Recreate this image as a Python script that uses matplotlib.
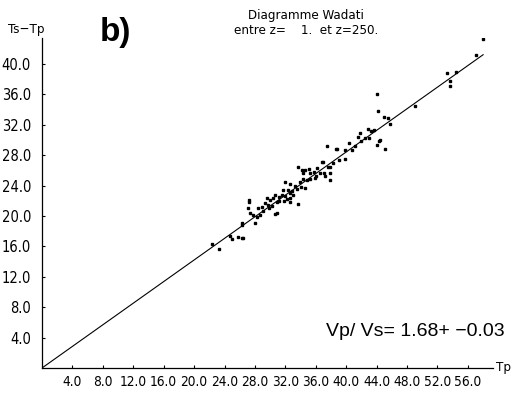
import matplotlib
matplotlib.use('Agg')
import matplotlib.pyplot as plt
from matplotlib import font_manager

# Wadati diagram: S-P time vs P arrival time
tp = [58.0, 57.1, 53.3, 54.5, 53.7, 53.6, 49.1, 44.1, 44.2, 45.0, 45.5, 45.1,
      44.5, 45.8, 42.9, 43.2, 43.7, 41.8, 41.6, 42.5, 44.1, 44.3, 40.4, 39.9,
      38.8, 38.6, 37.5, 39.9, 37.6, 37.9, 37.9, 37.2, 37.9, 36.8, 36.2, 35.7,
      35.1, 35.3, 34.6, 34.3, 33.6, 34.3, 34.9, 35.9, 34.1, 34.6, 33.3, 32.6,
      32.0, 31.7, 32.4, 32.6, 33.0, 32.6, 32.2, 32.6, 33.7, 31.6, 31.1, 30.7,
      30.4, 30.9, 30.0, 29.6, 29.3, 29.7, 28.9, 28.4, 27.2, 27.1, 27.4, 27.8,
      28.3, 28.7, 28.0, 30.7, 30.9, 26.3, 26.4, 27.2, 26.3, 24.7, 25.0, 25.8,
      26.3, 22.4, 23.3, 37.0, 37.1, 34.2,
      29.0, 29.8, 30.3, 31.2, 31.8, 32.0, 32.9, 33.5, 33.9, 35.2, 36.0, 36.5,
      38.3, 39.0, 40.8, 41.2, 42.0, 43.0]
ts_tp = [43.3, 41.2, 38.8, 38.9, 37.8, 37.1, 34.5, 36.1, 33.8, 33.0, 32.9, 28.8,
         30.0, 32.1, 31.4, 31.2, 31.3, 30.9, 30.4, 30.3, 29.3, 29.9, 29.6, 28.7,
         28.8, 28.8, 29.2, 27.5, 26.4, 26.4, 25.7, 25.3, 24.7, 27.1, 26.3, 25.8,
         26.2, 25.7, 26.1, 25.7, 26.4, 24.9, 24.7, 25.0, 23.8, 23.7, 23.9, 24.2,
         24.5, 23.4, 23.4, 23.0, 22.8, 22.4, 22.2, 21.8, 21.6, 22.8, 22.5, 22.8,
         22.4, 21.8, 22.1, 22.4, 21.7, 21.4, 21.2, 21.1, 22.1, 21.1, 20.4, 20.1,
         19.9, 20.1, 19.1, 20.3, 20.4, 19.1, 17.1, 21.8, 18.8, 17.4, 17.0, 17.2,
         17.1, 16.3, 15.7, 27.1, 25.7, 26.1,
         20.6, 21.0, 21.3, 21.9, 22.0, 22.6, 23.3, 23.5, 24.4, 24.9, 25.3, 25.6,
         27.0, 27.4, 28.7, 29.2, 29.8, 30.2]

# fitted line end points
line_tp = [0.0, 58.0]
line_tsp = [0.0, 41.2]

xticks = [4, 8, 12, 16, 20, 24, 28, 32, 36, 40, 44, 48, 52, 56]
yticks = [4, 8, 12, 16, 20, 24, 28, 32, 36, 40]

# pick a condensed face if one is installed (the original uses a narrow plotter font)
names = {f.name for f in font_manager.fontManager.ttflist}
cond = [f for f in font_manager.fontManager.ttflist
        if f.name == 'DejaVu Sans' and 'ondensed' in str(f.stretch) + f.fname]
if 'Liberation Sans Narrow' in names:
    small = dict(family='Liberation Sans Narrow', fontsize=11.5)
elif cond:
    small = dict(family='DejaVu Sans', fontstretch='condensed', fontsize=10.5)
else:
    small = dict(family='DejaVu Sans', fontsize=9)
xsmall = dict(small, fontsize=small['fontsize'] - 0.7)

W, H = 512, 397
fig = plt.figure(figsize=(W / 100, H / 100), dpi=100)

ax = fig.add_axes([42 / W, 1 - 368 / H, 451 / W, 330 / H])
ax.plot(line_tp, line_tsp, color='black', linewidth=0.8)
ax.plot(tp, ts_tp, linestyle='none', marker='s', markersize=1.5, color='black')

ax.set_xlim(0, 59.3)
ax.set_ylim(0, 43.4)
ax.spines['top'].set_visible(False)
ax.spines['right'].set_visible(False)
ax.spines['left'].set_linewidth(0.9)
ax.spines['bottom'].set_linewidth(0.9)

ax.set_xticks(xticks)
ax.set_yticks(yticks)
ax.set_xticklabels(['%.1f' % v for v in xticks], **xsmall)
ax.set_yticklabels(['%.1f' % v for v in yticks], **small)
ax.tick_params(axis='x', direction='in', length=2, width=0.8, pad=5)
ax.tick_params(axis='y', direction='in', length=2, width=0.8, pad=8)

title_kw = dict(small, fontsize=small['fontsize'] - 1)

# labels and annotations
fig.text(26 / W, 1 - 30 / H, 'Ts\u2212Tp', ha='center', va='center', **title_kw)
fig.text(496 / W, 1 - 367 / H, 'Tp', ha='left', va='center', **title_kw)
fig.text(115 / W, 1 - 32 / H, 'b)', family='Liberation Sans', fontsize=24,
         fontweight='bold', ha='center', va='center')
fig.text(306 / W, 1 - 15 / H, 'Diagramme Wadati', ha='center', va='center',
         **title_kw)
fig.text(306 / W, 1 - 30 / H, 'entre z=    1.  et z=250.', ha='center',
         va='center', **title_kw)
fig.text(505 / W, 1 - 331 / H, 'Vp/ Vs= 1.68+ \u22120.03', family='Liberation Sans',
         fontsize=14, ha='right', va='center')

fig.savefig('out.png', dpi=100)
